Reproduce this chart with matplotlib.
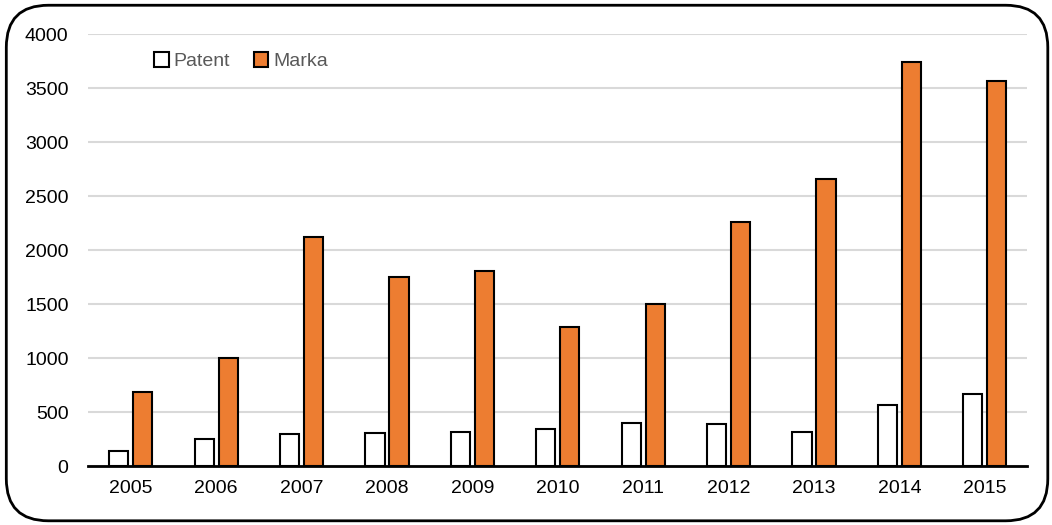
import numpy as np
import matplotlib.pyplot as plt
from matplotlib.patches import FancyBboxPatch

plt.rcParams['font.family'] = ['Liberation Sans', 'DejaVu Sans']

years = ['2005', '2006', '2007', '2008', '2009', '2010',
         '2011', '2012', '2013', '2014', '2015']
patent = [140, 250, 300, 310, 320, 340, 400, 390, 320, 565, 670]
marka = [690, 1000, 2120, 1750, 1810, 1290, 1500, 2260, 2660, 3740, 3570]

fig = plt.figure(figsize=(10.52, 5.25), dpi=100)
ax = fig.add_axes([0.0837, 0.112, 0.893, 0.823])

x = np.arange(len(years))
w = 0.225
ax.bar(x - 0.14, patent, w, color='white', edgecolor='black', linewidth=1.5,
       label='Patent', zorder=3)
ax.bar(x + 0.14, marka, w, color='#ed7d31', edgecolor='black', linewidth=1.5,
       label='Marka', zorder=3)

ax.set_xlim(-0.5, len(years) - 0.5)
ax.set_ylim(0, 4000)
ax.set_yticks(range(0, 4001, 500))
ax.set_xticks(x)
ax.set_xticklabels(years)
ax.tick_params(axis='both', length=0, labelsize=14, colors='black')
ax.tick_params(axis='x', pad=10)
ax.tick_params(axis='y', pad=14)
ax.grid(axis='y', color='#d9d9d9', linewidth=1.5, zorder=0)

for side in ['top', 'right', 'left']:
    ax.spines[side].set_visible(False)
ax.spines['bottom'].set_linewidth(2)
ax.spines['bottom'].set_zorder(4)

leg = ax.legend(loc='upper left', bbox_to_anchor=(0.052, 0.998), ncol=2,
                frameon=False, fontsize=14, handlelength=0.75, handleheight=0.75,
                handletextpad=0.25, columnspacing=1.2)
for t in leg.get_texts():
    t.set_color('#595959')

# rounded frame around the whole figure
frame = FancyBboxPatch((0.006, 0.008), 0.99, 0.982,
                       boxstyle='round,pad=0,rounding_size=0.04',
                       transform=fig.transFigure, fill=False,
                       edgecolor='black', linewidth=2, mutation_aspect=2.0)
fig.patches.append(frame)

fig.savefig('out.png', dpi=100)
